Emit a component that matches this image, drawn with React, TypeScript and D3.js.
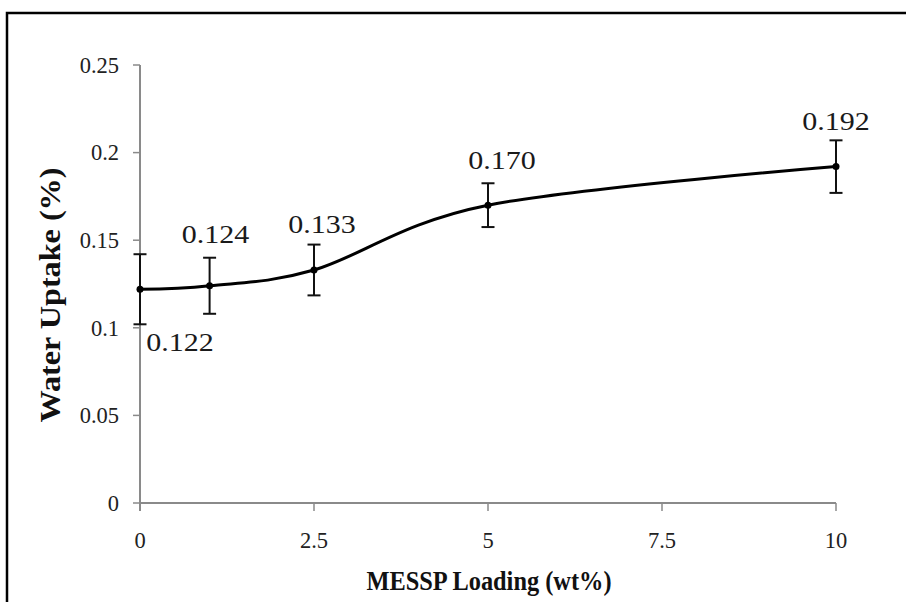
import React from "react";
import * as d3 from "d3";

const loading = [0, 1, 2.5, 5, 10];
const uptake = [0.122, 0.124, 0.133, 0.17, 0.192];
const uptakeErr = [0.02, 0.016, 0.0145, 0.0125, 0.015];
const pointLabels = ["0.122", "0.124", "0.133", "0.170", "0.192"];

const xTicks = [0, 2.5, 5, 7.5, 10];
const xTickLabels = ["0", "2.5", "5", "7.5", "10"];
const yTicks = [0, 0.05, 0.1, 0.15, 0.2, 0.25];
const yTickLabels = ["0", "0.05", "0.1", "0.15", "0.2", "0.25"];

const xTitle = "MESSP Loading (wt%)";
const yTitle = "Water Uptake (%)";

export default function App() {
  const w = 906;
  const h = 602;
  const serif = "'Liberation Serif', 'Times New Roman', serif";
  const axisColor = "#8a8a8a";

  const x = d3.scaleLinear().domain([0, 10]).range([140, 836]);
  const y = d3.scaleLinear().domain([0, 0.25]).range([503, 65]);

  const line = d3
    .line<number>()
    .x((d, i) => x(loading[i]))
    .y((d) => y(d))
    .curve(d3.curveCardinal);

  // where each value label sits relative to its point
  const labelShift = [
    [40, 62],
    [6, -43],
    [8, -37],
    [14, -36],
    [0, -37],
  ];

  return (
    <svg
      width={w}
      height={h}
      style={{ position: "absolute", left: 0, top: 0, background: "#fff" }}
    >
      <rect x={0} y={0} width={w} height={h} fill="#fff" />
      <rect
        x={7}
        y={13}
        width={w + 20}
        height={h + 20}
        fill="none"
        stroke="#000"
        strokeWidth={2.5}
      />

      {/* axes */}
      <line x1={x(0)} x2={x(10)} y1={y(0)} y2={y(0)} stroke={axisColor} strokeWidth={2} />
      <line x1={x(0)} x2={x(0)} y1={y(0.25)} y2={y(0) + 8} stroke={axisColor} strokeWidth={2} />
      {xTicks.map((t, i) => (
        <g key={"xt" + i}>
          <line x1={x(t)} x2={x(t)} y1={y(0)} y2={y(0) + 8} stroke={axisColor} strokeWidth={1.5} />
          <text
            x={x(t)}
            y={548}
            textAnchor="middle"
            fontFamily={serif}
            fontSize={22.5}
            fill="#222"
          >
            {xTickLabels[i]}
          </text>
        </g>
      ))}
      {yTicks.map((t, i) => (
        <g key={"yt" + i}>
          <line x1={x(0) - 7} x2={x(0)} y1={y(t)} y2={y(t)} stroke={axisColor} strokeWidth={1.5} />
          <text
            x={119}
            y={y(t)}
            dy="0.35em"
            textAnchor="end"
            fontFamily={serif}
            fontSize={22.5}
            fill="#222"
          >
            {yTickLabels[i]}
          </text>
        </g>
      ))}

      {/* axis titles */}
      <text
        x={489}
        y={590}
        textAnchor="middle"
        fontFamily={serif}
        fontWeight="bold"
        fontSize={28}
        textLength={245}
        lengthAdjust="spacingAndGlyphs"
        fill="#111"
      >
        {xTitle}
      </text>
      <text
        transform="translate(60,295) rotate(-90)"
        textAnchor="middle"
        fontFamily={serif}
        fontWeight="bold"
        fontSize={29}
        textLength={255}
        lengthAdjust="spacingAndGlyphs"
        fill="#111"
      >
        {yTitle}
      </text>

      {/* error bars */}
      {uptake.map((v, i) => {
        const cx = x(loading[i]);
        const top = y(v + uptakeErr[i]);
        const bot = y(v - uptakeErr[i]);
        return (
          <g key={"e" + i} stroke="#111" strokeWidth={2}>
            <line x1={cx} x2={cx} y1={top} y2={bot} />
            <line x1={cx - 6.5} x2={cx + 6.5} y1={top} y2={top} />
            <line x1={cx - 6.5} x2={cx + 6.5} y1={bot} y2={bot} />
          </g>
        );
      })}

      {/* smoothed line */}
      <path d={line(uptake) || ""} fill="none" stroke="#000" strokeWidth={3} />

      {uptake.map((v, i) => (
        <circle key={"p" + i} cx={x(loading[i])} cy={y(v)} r={3.5} fill="#000" />
      ))}

      {/* value labels */}
      {uptake.map((v, i) => (
        <g
          key={"l" + i}
          transform={`translate(${x(loading[i]) + labelShift[i][0]},${y(v) + labelShift[i][1]}) scale(1.2,1)`}
        >
          <text textAnchor="middle" fontFamily={serif} fontSize={25} fill="#1a1a1a">
            {pointLabels[i]}
          </text>
        </g>
      ))}
    </svg>
  );
}
